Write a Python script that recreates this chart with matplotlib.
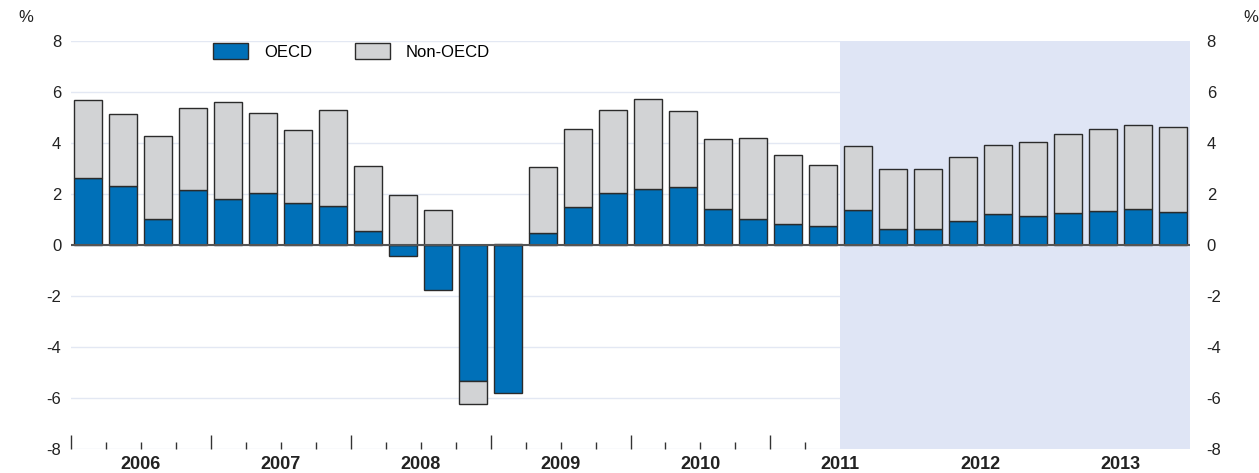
import numpy as np
import matplotlib
matplotlib.use("Agg")
import matplotlib.pyplot as plt
from matplotlib.patches import Patch

plt.rcParams['font.family'] = ['Liberation Sans', 'DejaVu Sans']

# quarterly contributions, 2006Q1 - 2013Q4 (%)
years = ['2006', '2007', '2008', '2009', '2010', '2011', '2012', '2013']
oecd = [2.64, 2.33, 1.01, 2.17, 1.79, 2.03, 1.64, 1.51,
        0.55, -0.42, -1.75, -5.32, -5.79, 0.46, 1.49, 2.05,
        2.20, 2.29, 1.41, 1.03, 0.81, 0.73, 1.36, 0.62,
        0.64, 0.93, 1.20, 1.15, 1.24, 1.33, 1.43, 1.31]
total = [5.67, 5.14, 4.27, 5.37, 5.62, 5.19, 4.51, 5.29,
         3.09, None, None, None, None, 3.07, 4.54, 5.31,
         5.74, 5.26, 4.17, 4.20, 3.52, 3.14, 3.90, 2.98,
         2.98, 3.44, 3.92, 4.04, 4.35, 4.54, 4.69, 4.62]
# where signs differ the non-OECD part is read directly
non_oecd_direct = {9: 1.95, 10: 1.38, 11: -0.90, 12: 0.05}
first_projection = 22  # 2011Q3 onwards shaded

oecd = np.array(oecd)
non_oecd = np.array([non_oecd_direct[i] if t is None else t - o
                     for i, (t, o) in enumerate(zip(total, oecd))])

BLUE = '#0070b8'
GREY = '#d2d3d5'
EDGE = '#2b2b2b'
GRID = '#e3e8f3'
SHADE = '#dfe5f5'
TXT = '#222222'

fig = plt.figure(figsize=(12.59, 4.73), dpi=100)
ax = fig.add_axes([71 / 1259, 1 - 449 / 473, 1119 / 1259, 408 / 473])

x = np.arange(len(oecd))
same_sign = np.sign(non_oecd) == np.sign(oecd)
bottom = np.where(same_sign, oecd, 0)

ax.bar(x, oecd, width=0.8, color=BLUE, edgecolor=EDGE, linewidth=1.0, zorder=2)
ax.bar(x, non_oecd, width=0.8, bottom=bottom, color=GREY, edgecolor=EDGE,
       linewidth=1.0, zorder=2)

ax.set_xlim(-0.5, len(x) - 0.5)
ax.set_ylim(-8, 8)
ax.axvspan(first_projection - 0.5, len(x) - 0.5, color=SHADE, lw=0, zorder=1)
for yv in range(-8, 9, 2):
    ax.axhline(yv, color=GRID, lw=1.0, zorder=0)
ax.axhline(0, color='#555555', lw=1.5, zorder=3)

for s in ax.spines.values():
    s.set_visible(False)

yt = list(range(-8, 9, 2))
ax.set_yticks(yt)
ax.set_yticklabels([str(v) for v in yt])
ax.tick_params(axis='y', length=0, labelsize=12, colors=TXT, pad=7)

# right-hand axis copy
ax2 = ax.twinx()
ax2.set_ylim(ax.get_ylim())
ax2.set_yticks(yt)
ax2.set_yticklabels([str(v) for v in yt])
ax2.tick_params(axis='y', length=0, labelsize=12, colors=TXT, pad=12)
for s in ax2.spines.values():
    s.set_visible(False)

# x ticks at quarter boundaries, stop at projection shade
bounds = np.arange(-0.5, first_projection - 1, 1.0)
ax.set_xticks([b for i, b in enumerate(bounds) if i % 4 == 0])
ax.set_xticks([b for i, b in enumerate(bounds) if i % 4 != 0], minor=True)
ax.tick_params(axis='x', which='major', direction='in', length=10, width=1,
               color='#333333', labelbottom=False)
ax.tick_params(axis='x', which='minor', direction='in', length=5, width=1,
               color='#333333', labelbottom=False)

for i, yr in enumerate(years):
    ax.text(i * 4 + 1.5, -20 / 408, yr, transform=ax.get_xaxis_transform(),
            ha='center', va='baseline', fontsize=13, fontweight='bold',
            color=TXT)

fig.text(18 / 1259, 1 - 18 / 473, '%', fontsize=12, ha='left', va='center',
         color=TXT)
fig.text(1243 / 1259, 1 - 18 / 473, '%', fontsize=12, ha='left', va='center',
         color=TXT)

handles = [Patch(facecolor=BLUE, edgecolor=EDGE, label='OECD'),
           Patch(facecolor=GREY, edgecolor=EDGE, label='Non-OECD')]
ax.legend(handles=handles, loc='upper left', bbox_to_anchor=(0.127, 0.995),
          ncol=2, frameon=False, fontsize=12, handlelength=2.1,
          handleheight=1.08, handletextpad=0.95, columnspacing=2.6,
          borderpad=0, borderaxespad=0)

fig.savefig('out.png', dpi=100)
